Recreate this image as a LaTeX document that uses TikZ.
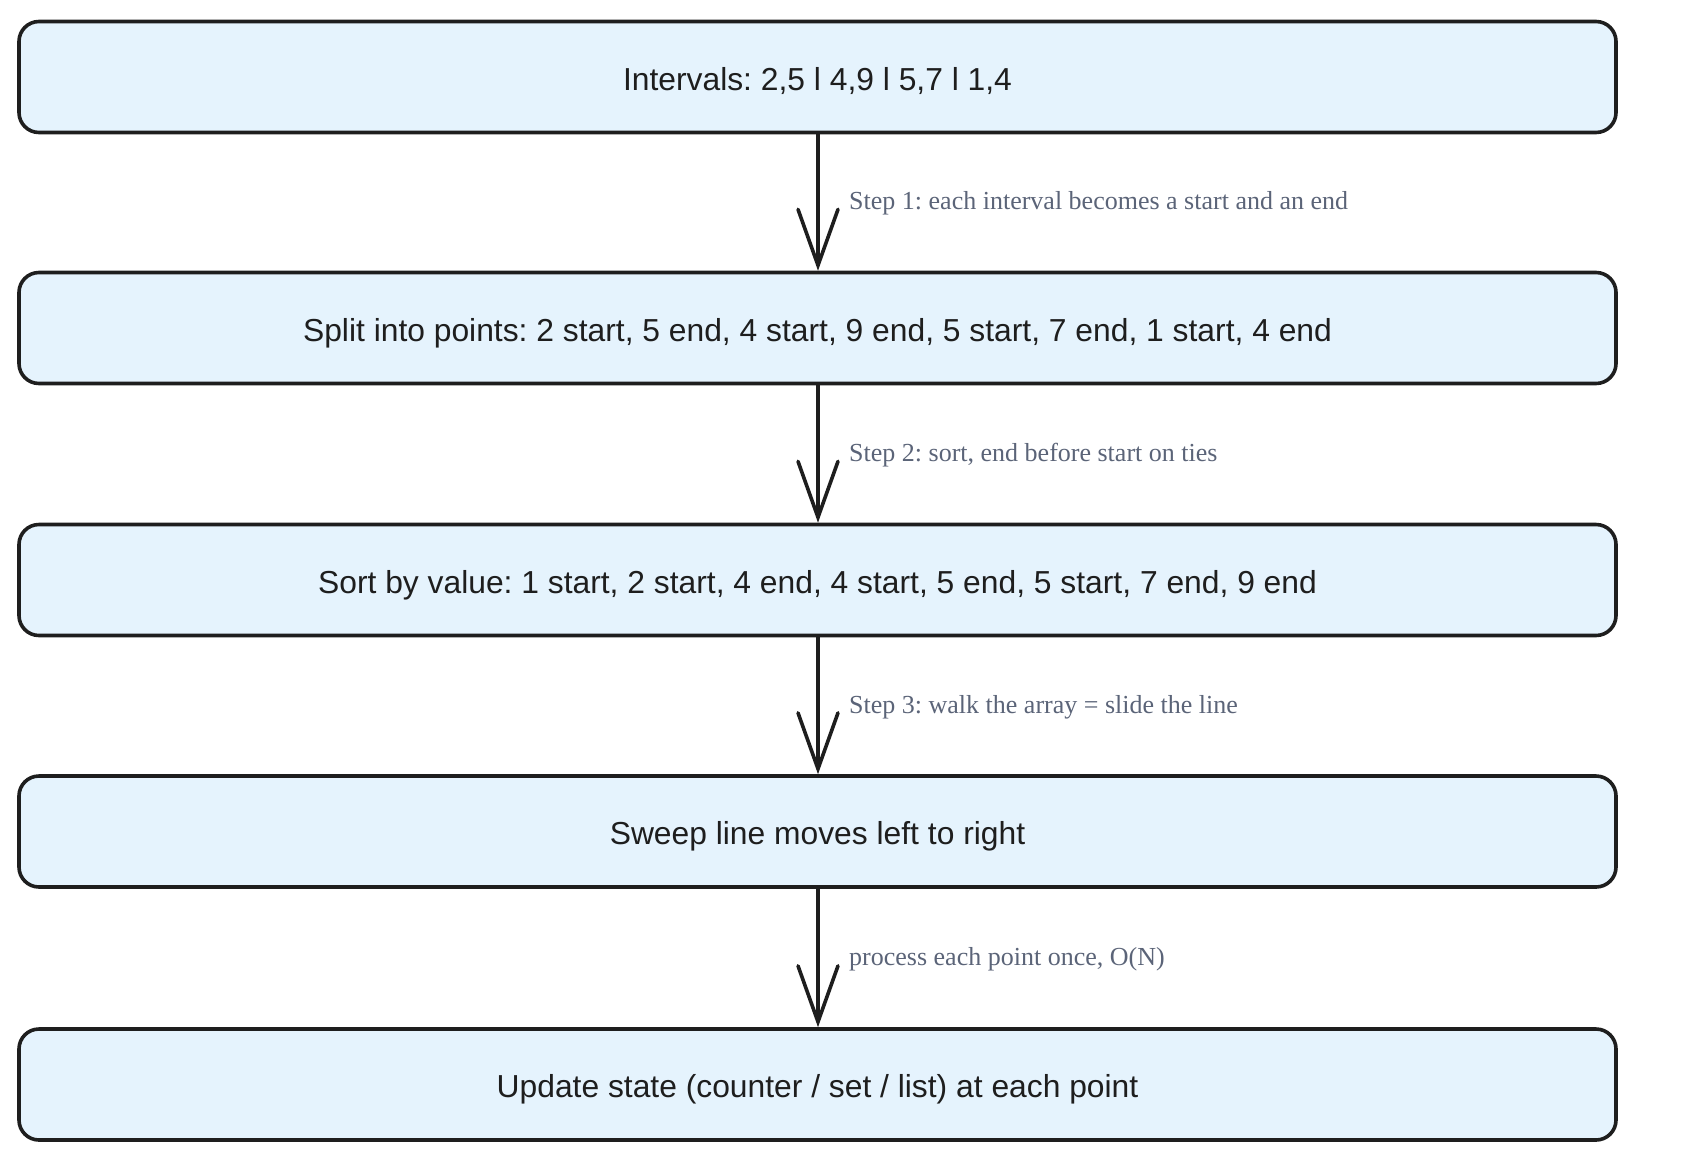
\documentclass[tikz,border=0pt]{standalone}
\usepackage{fontspec}
\setmainfont{Liberation Serif}
\newfontfamily\boxfont{Liberation Sans}
\usetikzlibrary{arrows.meta}
\definecolor{boxfill}{HTML}{E5F3FD}
\definecolor{ink}{HTML}{1E1E1E}
\definecolor{labelcol}{HTML}{5B6478}
\frenchspacing
\tikzset{
  stepbox/.style={draw=ink, fill=boxfill, line width=3.6pt, rounded corners=20pt,
    minimum width=1597pt, minimum height=111pt, inner sep=0pt,
    text height=26pt, text depth=0pt,
    font=\boxfont\fontsize{31.8pt}{36pt}\selectfont, text=ink},
  flow/.style={draw=ink, line width=3.6pt, line cap=round,
    -{Straight Barb[length=56pt, width=40pt, line width=3.6pt, line cap=round]}},
  steplabel/.style={anchor=west, inner sep=0pt, text=labelcol,
    font=\fontsize{26pt}{30pt}\selectfont}
}
\begin{document}
\begin{tikzpicture}[x=1pt,y=-1pt]
\useasboundingbox (0,0) rectangle (1686,1160);
\node[stepbox] (b1) at (817.5,77) {Intervals: 2,5 l 4,9 l 5,7 l 1,4};
\node[stepbox] (b2) at (817.5,328) {Split into points: 2 start, 5 end, 4 start, 9 end, 5 start, 7 end, 1 start, 4 end};
\node[stepbox] (b3) at (817.5,580) {Sort by value: 1 start, 2 start, 4 end, 4 start, 5 end, 5 start, 7 end, 9 end};
\node[stepbox] (b4) at (817.5,831.5) {Sweep line moves left to right};
\node[stepbox] (b5) at (817.5,1084.5) {Update state (counter / set / list) at each point};
\draw[flow] (b1.south -| 818,0) -- (b2.north -| 818,0);
\draw[flow] (b2.south -| 818,0) -- (b3.north -| 818,0);
\draw[flow] (b3.south -| 818,0) -- (b4.north -| 818,0);
\draw[flow] (b4.south -| 818,0) -- (b5.north -| 818,0);
\node[steplabel] (l1) at (849,203) {Step 1: each interval becomes a start and an end};
\node[steplabel] (l2) at (849,455) {Step 2: sort, end before start on ties};
\node[steplabel] (l3) at (849,707) {Step 3: walk the array = slide the line};
\node[steplabel] (l4) at (849,959) {process each point once, O(N)};
\end{tikzpicture}
\end{document}
